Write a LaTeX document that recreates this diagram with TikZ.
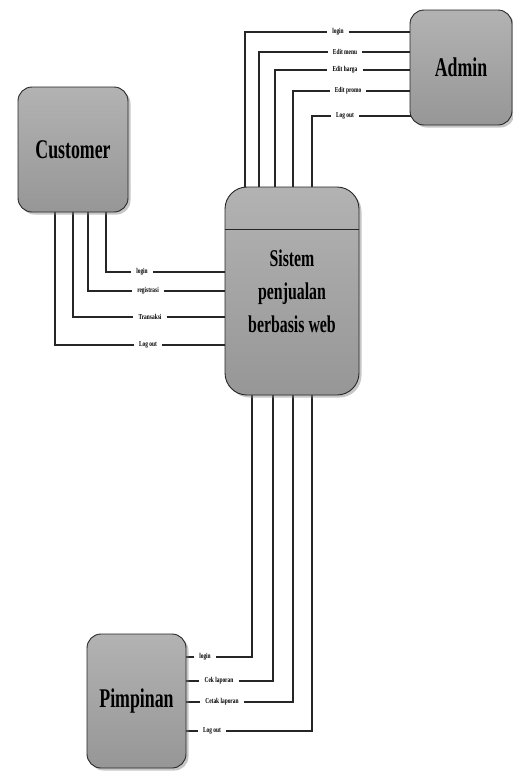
\documentclass[tikz,border=0pt]{standalone}
\usepackage{fontspec}
\newfontfamily\cond[FakeStretch=0.66]{Liberation Serif}
\newfontfamily\lblfont[FakeStretch=0.72]{Liberation Serif}
\usetikzlibrary{shadows,backgrounds}
\begin{document}
\begin{tikzpicture}[x=1pt,y=-1pt,
  ent/.style={draw=black!85, line width=0.9pt, rounded corners=14pt,
    top color=black!30, bottom color=black!41,
    drop shadow={shadow xshift=2.5pt, shadow yshift=-2.5pt, opacity=0.45},
    font=\cond\bfseries\fontsize{27}{30}\selectfont, align=center, inner sep=0pt},
  lbl/.style={font=\lblfont\bfseries\fontsize{7.5}{8}\selectfont, inner xsep=5pt, inner ysep=1pt},
  flow/.style={draw=black!85, line width=1.3pt}]
\useasboundingbox (0,0) rectangle (513,774);

% entities
\node[ent, minimum width=102pt, minimum height=115pt] (admin) at (461,67.5) {Admin};
\node[ent, minimum width=110pt, minimum height=125pt] (cust) at (73,149.5) {Customer};
\node[ent, rounded corners=22pt, minimum width=134pt, minimum height=208pt,
  font=\cond\bfseries\fontsize{24}{33}\selectfont] (sys) at (292,291)
  {Sistem\\penjualan\\berbasis web};
\node[ent, minimum width=99pt, minimum height=134pt] (pimp) at (136.5,701) {Pimpinan};

\coordinate (div) at (0,229);
\draw[draw=black!85, line width=0.9pt] (sys.west |- div) -- (sys.east |- div);

% labels admin
\node[lbl] (a1) at (338,32) {login};
\node[lbl] (a2) at (345,52) {Edit menu};
\node[lbl] (a3) at (345,70) {Edit harga};
\node[lbl] (a4) at (348,91) {Edit promo};
\node[lbl] (a5) at (345,116) {Log out};
% labels customer
\node[lbl] (c1) at (142,272) {login};
\node[lbl] (c2) at (148,291) {registrasi};
\node[lbl] (c3) at (150,317) {Transaksi};
\node[lbl] (c4) at (148,345) {Log out};
% labels pimpinan
\node[lbl] (p1) at (205,657) {login};
\node[lbl] (p2) at (219,681) {Cek laporan};
\node[lbl] (p3) at (222,702) {Cetak laporan};
\node[lbl] (p4) at (212,731) {Log out};

% x positions of vertical runs
\coordinate (ax1) at (245,0);
\coordinate (ax2) at (259,0);
\coordinate (ax3) at (275,0);
\coordinate (ax4) at (293,0);
\coordinate (ax5) at (312,0);
\coordinate (cx1) at (106,0);
\coordinate (cx2) at (88,0);
\coordinate (cx3) at (73,0);
\coordinate (cx4) at (55,0);
\coordinate (bx1) at (252,0);
\coordinate (bx2) at (273,0);
\coordinate (bx3) at (293,0);
\coordinate (bx4) at (312,0);

\begin{scope}[on background layer]
% system <-> admin
\draw[flow] (sys.center -| ax1) |- (a1.west); \draw[flow] (a1.east) -- (a1 -| admin.center);
\draw[flow] (sys.center -| ax2) |- (a2.west); \draw[flow] (a2.east) -- (a2 -| admin.center);
\draw[flow] (sys.center -| ax3) |- (a3.west); \draw[flow] (a3.east) -- (a3 -| admin.center);
\draw[flow] (sys.center -| ax4) |- (a4.west); \draw[flow] (a4.east) -- (a4 -| admin.center);
\draw[flow] (sys.center -| ax5) |- (a5.west); \draw[flow] (a5.east) -- (a5 -| admin.center);
% customer <-> system
\draw[flow] (cust.center -| cx1) |- (c1.west); \draw[flow] (c1.east) -- (c1 -| sys.center);
\draw[flow] (cust.center -| cx2) |- (c2.west); \draw[flow] (c2.east) -- (c2 -| sys.center);
\draw[flow] (cust.center -| cx3) |- (c3.west); \draw[flow] (c3.east) -- (c3 -| sys.center);
\draw[flow] (cust.center -| cx4) |- (c4.west); \draw[flow] (c4.east) -- (c4 -| sys.center);
% pimpinan <-> system
\draw[flow] (p1.west) -- (p1 -| pimp.center); \draw[flow] (p1.east) -| (sys.center -| bx1);
\draw[flow] (p2.west) -- (p2 -| pimp.center); \draw[flow] (p2.east) -| (sys.center -| bx2);
\draw[flow] (p3.west) -- (p3 -| pimp.center); \draw[flow] (p3.east) -| (sys.center -| bx3);
\draw[flow] (p4.west) -- (p4 -| pimp.center); \draw[flow] (p4.east) -| (sys.center -| bx4);
\end{scope}
\end{tikzpicture}
\end{document}
